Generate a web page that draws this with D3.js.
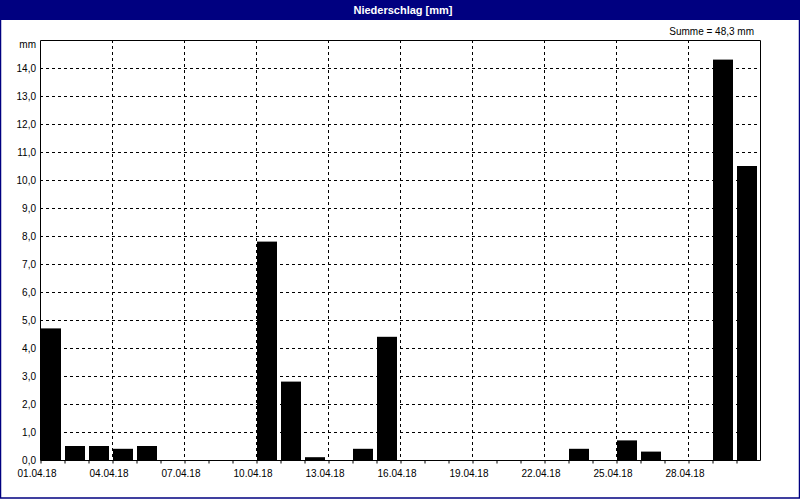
<!DOCTYPE html>
<html>
<head>
<meta charset="utf-8">
<script src="https://cdn.jsdelivr.net/npm/d3@7"></script>
<style>
  body { margin: 0; background: #fff; }
  svg text { font-family: "Liberation Sans", "DejaVu Sans", sans-serif; }
</style>
</head>
<body>
<div id="chart"></div>
<script>
// Tagesniederschlag April 2018
const days = d3.range(1, 31);
const rain = [4.7, 0.5, 0.5, 0.4, 0.5, 0, 0, 0, 0, 7.8,
              2.8, 0.1, 0, 0.4, 4.4, 0, 0, 0, 0, 0,
              0, 0, 0.4, 0, 0.7, 0.3, 0, 0, 14.3, 10.5];
const yTicks = d3.range(0, 15);
const dateLabels = ['01.04.18', '04.04.18', '07.04.18', '10.04.18', '13.04.18',
                    '16.04.18', '19.04.18', '22.04.18', '25.04.18', '28.04.18'];
const title = 'Niederschlag [mm]';
const unit = 'mm';

const W = 800, H = 500;
const margin = { top: 40, right: 40, bottom: 40, left: 40 };

const svg = d3.select('#chart').append('svg')
  .attr('width', W).attr('height', H);

// frame + title bar
svg.append('rect').attr('x', 0).attr('y', 0).attr('width', W).attr('height', H)
  .attr('fill', '#fff');
svg.append('rect').attr('x', 0).attr('y', 0).attr('width', W).attr('height', 20)
  .attr('fill', '#000080');
svg.append('rect').attr('x', 0.5).attr('y', 0.5).attr('width', W - 1).attr('height', H - 2.5)
  .attr('fill', 'none').attr('stroke', '#000080').attr('stroke-width', 1.5);
svg.append('text').attr('x', W / 2 + 3).attr('y', 14)
  .attr('text-anchor', 'middle').attr('fill', '#fff')
  .attr('font-size', 11).attr('font-weight', 'bold').text(title);

const x = d3.scaleLinear().domain([1, 31]).range([margin.left, W - margin.right]);
const y = d3.scaleLinear().domain([0, 15]).range([H - margin.bottom, margin.top]);

const g = svg.append('g');

// horizontal grid
g.selectAll('.hgrid').data(yTicks.filter(d => d > 0)).join('line')
  .attr('x1', x(1)).attr('x2', x(31))
  .attr('y1', d => Math.round(y(d)) + 0.5).attr('y2', d => Math.round(y(d)) + 0.5)
  .attr('stroke', '#000').attr('stroke-dasharray', '3,3');

// vertical grid every 3 days
const gridDays = d3.range(4, 31, 3);
g.selectAll('.vgrid').data(gridDays).join('line')
  .attr('x1', d => Math.round(x(d)) + 0.5).attr('x2', d => Math.round(x(d)) + 0.5)
  .attr('y1', y(15)).attr('y2', y(0))
  .attr('stroke', '#000').attr('stroke-dasharray', '3,3');

// bars
g.selectAll('.bar').data(days).join('rect')
  .attr('x', d => x(d) + (d === 1 ? 0 : 1))
  .attr('width', d => d === 1 ? 21 : 20)
  .attr('y', (d, i) => y(rain[i]))
  .attr('height', (d, i) => y(0) - y(rain[i]))
  .attr('fill', '#000');

// plot border
g.append('path')
  .attr('d', `M${x(1) + 0.5},${y(0) + 0.5}V${y(15) + 0.5}H${x(31) + 0.5}V${y(0) + 0.5}Z`)
  .attr('fill', 'none').attr('stroke', '#000');

// x ticks
const xAxis = d3.axisBottom(x).tickValues(d3.range(1, 31)).tickSize(3).tickFormat('');
svg.append('g').attr('transform', `translate(0.5,${y(0) + 0.5})`).call(xAxis)
  .call(a => a.select('.domain').remove());

svg.append('g').selectAll('text').data(dateLabels).join('text')
  .attr('x', (d, i) => x(1 + i * 3) - 3)
  .attr('y', 477)
  .attr('text-anchor', 'middle').attr('font-size', 10).attr('fill', '#000')
  .text(d => d);

// y labels
const fmt = d => d3.format('.1f')(d).replace('.', ',');
svg.append('g').selectAll('text').data(yTicks).join('text')
  .attr('x', 36).attr('y', d => y(d) + 4)
  .attr('text-anchor', 'end').attr('font-size', 10).attr('fill', '#000')
  .text(fmt);
svg.append('text').attr('x', 36).attr('y', 48)
  .attr('text-anchor', 'end').attr('font-size', 10).text(unit);

// sum
const total = d3.sum(rain);
svg.append('text').attr('x', 754).attr('y', 35)
  .attr('text-anchor', 'end').attr('font-size', 10)
  .text('Summe = ' + fmt(total) + ' mm');
</script>
</body>
</html>
